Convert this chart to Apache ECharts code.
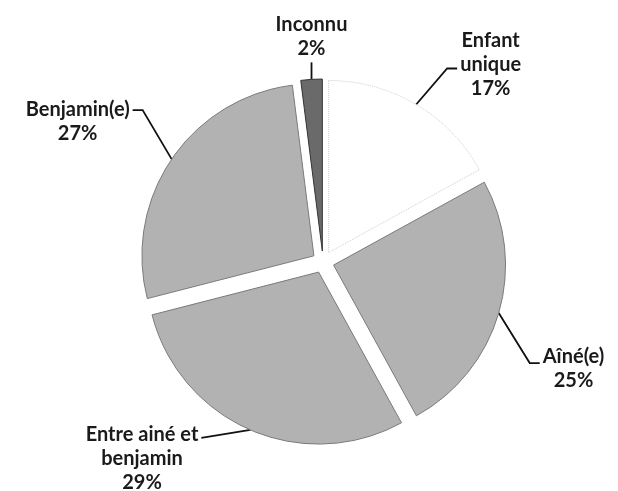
<!DOCTYPE html>
<html>
<head>
<meta charset="utf-8">
<script src="https://cdn.jsdelivr.net/npm/echarts@6/dist/echarts.min.js"></script>
<style>
html, body { margin: 0; padding: 0; background: #fff; }
#chart { width: 618px; height: 491px; }
</style>
</head>
<body>
<div id="chart"></div>
<script>
// données (en %)
var categories = ['Enfant\nunique', 'Aîné(e)', 'Entre ainé et\nbenjamin', 'Benjamin(e)', 'Inconnu'];
var values = [17, 25, 29, 27, 2];

var fills = ['#ffffff', '#b2b2b2', '#b2b2b2', '#b2b2b2', '#6a6a6a'];
var edges = ['#cccccc', '#7a7a7a', '#7a7a7a', '#7a7a7a', '#333333'];

// forme des lignes de rappel : coude (depuis le bord), queue horizontale, décalage du texte
var leaders = [
    { dx: 31, dy: -36, tail: 10, side: 'left', top: -40 },
    { dx: 31, dy: 50, tail: 10, side: 'left', top: -19 },
    { dx: -49, dy: 8, tail: 0, side: 'right', top: -15 },
    { dx: -29, dy: -49, tail: -10, side: 'right', top: -13 },
    { dx: 0, dy: -17, tail: 0, side: 'center', top: -2 }
];

var cx = 323, cy = 262, R = 172, explode = 11;
var total = 0;
for (var k = 0; k < values.length; k++) total += values[k];

var chart = echarts.init(document.getElementById('chart'));

function placeLabel(params) {
    if (params.dataIndex != params.seriesIndex || !params.labelLinePoints) return {};
    var l = leaders[params.dataIndex];
    var a = params.labelLinePoints[0];
    var elbow = [a[0] + l.dx, a[1] + l.dy];
    var end = [elbow[0] + l.tail, elbow[1]];
    var res = { labelLinePoints: [a, elbow, end] };
    if (l.side == 'center') {
        res.x = end[0];
        res.y = end[1] + l.top;
        res.align = 'center';
        res.verticalAlign = 'bottom';
    } else {
        res.x = l.side == 'left' ? end[0] + 3 : end[0] - 3;
        res.y = end[1] + l.top;
        res.align = l.side;
        res.verticalAlign = 'top';
    }
    return res;
}

// une série par part, décalée le long de son angle médian (camembert éclaté)
var series = [];
var cum = 0;
for (var i = 0; i < values.length; i++) {
    var mid = (cum + values[i] / 2) / total * 2 * Math.PI;
    cum += values[i];
    var data = [];
    for (var j = 0; j < values.length; j++) {
        var on = j == i;
        data.push({
            name: categories[j],
            value: values[j],
            itemStyle: on ? {
                color: fills[j],
                borderColor: edges[j],
                borderWidth: 1,
                borderType: j == 0 ? 'dotted' : 'solid'
            } : { color: 'rgba(0,0,0,0)', borderWidth: 0 },
            label: { show: on },
            labelLine: { show: on }
        });
    }
    series.push({
        type: 'pie',
        center: [cx + explode * Math.sin(mid), cy - explode * Math.cos(mid)],
        radius: R,
        startAngle: 90,
        clockwise: true,
        avoidLabelOverlap: false,
        silent: true,
        data: data,
        label: {
            formatter: function(p) {
                return '{t|' + p.name + '\n' + p.value + '%}';
            },
            rich: {
                t: {
                    fontFamily: 'Lato',
                    fontWeight: 'bold',
                    fontSize: 20,
                    lineHeight: 24,
                    color: '#1a1a1a',
                    align: 'center'
                }
            }
        },
        labelLine: {
            length: 20,
            length2: 10,
            lineStyle: { color: '#111', width: 1.8 }
        },
        emphasis: { disabled: true },
        labelLayout: placeLabel
    });
}

chart.setOption({ animation: false, series: series });
</script>
</body>
</html>
